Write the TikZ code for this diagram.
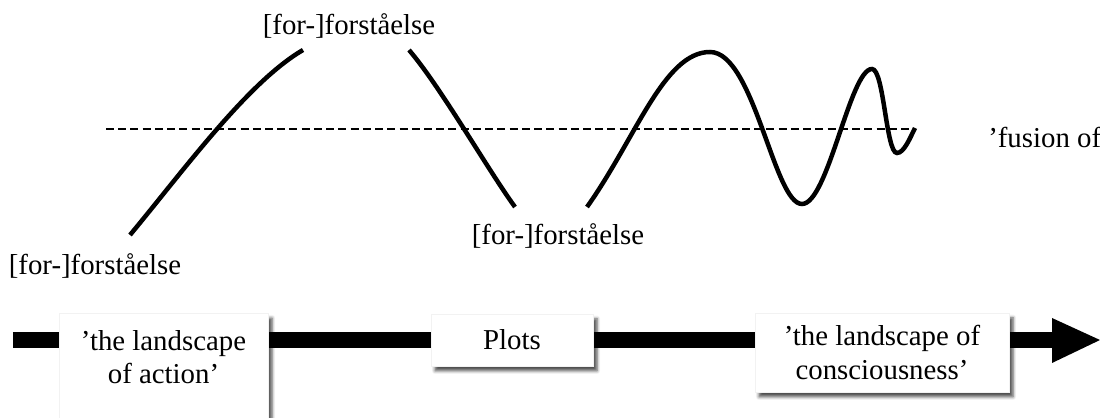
\documentclass[tikz,border=0pt]{standalone}
\usepackage{fontspec}
\setmainfont{Liberation Serif}
\usetikzlibrary{shadows.blur}

\begin{document}
\begin{tikzpicture}[
    font=\fontsize{20.5}{23.5}\selectfont,
    wave/.style={line width=3.2pt},
    horizon/.style={line width=0.95pt, dash pattern=on 5.7pt off 3pt},
    landscape/.style={fill=white, draw=gray!10, inner sep=0pt, align=center,
        blur shadow={shadow xshift=0.1cm, shadow yshift=-0.12cm, shadow blur radius=0.08cm, shadow opacity=70}}
]
    \useasboundingbox (0,0) rectangle (27.5,10.45);
    \clip (0,0) rectangle (27.5,10.45);

    % Horizon
    \coordinate (Hleft) at (2.65,7.225);
    \coordinate (Hright) at (22.875,7.225);
    \draw[horizon] (Hleft) -- (Hright);

    % First rise
    \coordinate (A0) at (3.25,4.575);
    \coordinate (A1) at (7.575,9.2);
    \draw[wave] (A0) .. controls (4.6,6.2) and (6.2,8.4) .. (A1);

    % First fall
    \coordinate (B0) at (10.225,9.2);
    \coordinate (B1) at (12.875,5.275);
    \draw[wave] (B0) .. controls (11.0,8.3) and (12.2,6.2) .. (B1);

    % Waves closing in on the horizon
    \coordinate (C0) at (14.675,5.275);
    \coordinate (C1) at (17.75,9.15);
    \coordinate (C2) at (20.05,5.35);
    \coordinate (C3) at (21.8,8.725);
    \coordinate (C4) at (22.425,6.625);
    \coordinate (C5) at (22.875,7.25);
    \draw[wave] (C0) .. controls (15.9,7.0) and (16.6,9.15) .. (C1)
        .. controls (18.85,9.15) and (19.35,5.35) .. (C2)
        .. controls (20.7,5.35) and (21.25,8.725) .. (C3)
        .. controls (22.1,8.725) and (22.15,6.625) .. (C4)
        .. controls (22.6,6.625) and (22.75,7.0) .. (C5);

    % Labels
    \node (top) at (8.725,9.8) {[for-]forståelse};
    \node (low) at (2.375,3.8) {[for-]forståelse};
    \node (mid) at (13.95,4.55) {[for-]forståelse};
    \node[anchor=west, inner sep=0pt] (fusion) at (24.7,7.025) {'fusion of};

    % Timeline
    \coordinate (Tstart) at (0.325,1.95);
    \coordinate (Tend) at (26.35,1.95);
    \draw[line width=0.4cm] (Tstart) -- (Tend);
    \fill (26.3,1.375) -- (27.5,1.95) -- (26.3,2.5) -- cycle;

    % Boxes on the timeline
    \node[landscape, minimum width=5.225cm, minimum height=3.5cm, anchor=north] (action) at (4.0875,2.625) {};
    \node[align=center, anchor=north, inner sep=0pt] (action-text) at ([yshift=-0.43cm]action.north) {'the landscape\\of action'};
    \node[landscape, minimum width=4.05cm, minimum height=1.3cm] (plots) at (12.8,1.95) {Plots};
    \node[landscape, minimum width=6.35cm, minimum height=1.975cm] (conscious) at (22.05,1.6375) {'the landscape of\\consciousness'};
\end{tikzpicture}
\end{document}
